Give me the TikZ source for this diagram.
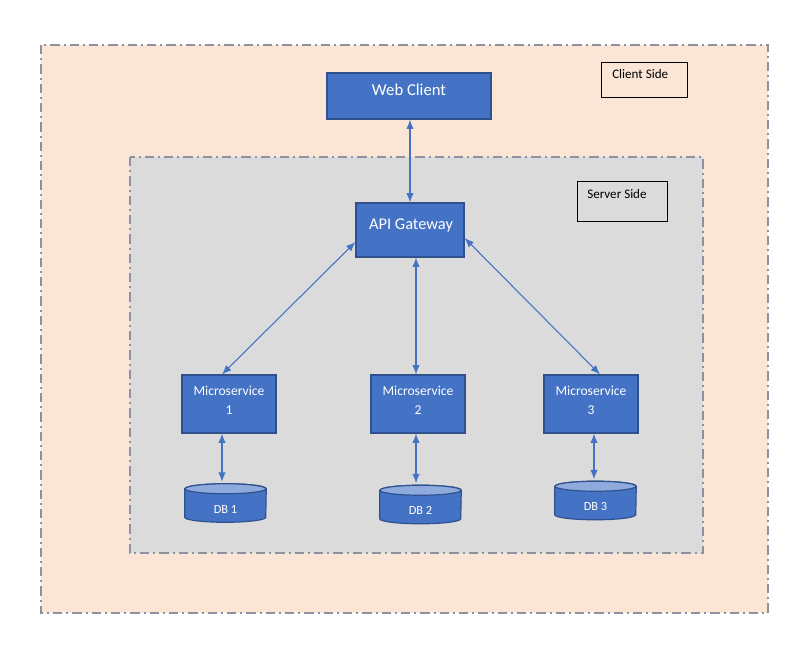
\documentclass[tikz,border=0pt]{standalone}
\usepackage{fontspec}
\setmainfont{Carlito}
\usetikzlibrary{arrows.meta}
\definecolor{peach}{HTML}{FBE5D6}
\definecolor{srvgray}{HTML}{DBDBDB}
\definecolor{framegray}{HTML}{8C93A0}
\definecolor{boxblue}{HTML}{4472C4}
\definecolor{boxedge}{HTML}{2F528F}
\definecolor{dbtop}{HTML}{8FAADC}
\tikzset{
  zone/.style={draw=framegray, line width=1.5pt, dash pattern=on 7pt off 3pt on 1.5pt off 3pt},
  bluebox/.style={draw=boxedge, line width=0.9pt, fill=boxblue, text=white, inner sep=0pt},
  labelbox/.style={draw=black, line width=0.75pt, inner sep=0pt},
  dbframe/.style={minimum width=81*0.75pt, minimum height=38*0.75pt, inner sep=0pt},
  dbdraw/.style={draw=boxedge, line width=0.9pt},
  link/.style={draw=boxblue, line width=0.8pt, {Latex[length=7pt,width=5.5pt]}-{Latex[length=7pt,width=5.5pt]}},
}
\begin{document}
\begin{tikzpicture}[x=0.75pt,y=-0.75pt]
\useasboundingbox (0,0) rectangle (806,665);
% zones
\path[zone, fill=peach] (41,45) rectangle (768,613);
\path[zone, fill=srvgray] (130,157) rectangle (703,553);
% label boxes
\node[labelbox, minimum width=86*0.75pt, minimum height=35*0.75pt] (clientbox) at (644,79.5) {};
\node[anchor=north west, font=\fontsize{9.8pt}{12pt}\selectfont, inner sep=0pt] (clientlbl) at (612,69) {Client Side};
\node[labelbox, minimum width=90*0.75pt, minimum height=40*0.75pt] (serverbox) at (622,201) {};
\node[anchor=north west, font=\fontsize{9.8pt}{12pt}\selectfont, inner sep=0pt] (serverlbl) at (587,189) {Server Side};
% boxes
\node[bluebox, minimum width=164*0.75pt, minimum height=46*0.75pt] (web) at (409,96) {};
\node[white, font=\fontsize{12.5pt}{15pt}\selectfont, inner sep=0pt] (webt) at (409,90) {Web Client};
\node[bluebox, minimum width=108*0.75pt, minimum height=54*0.75pt] (api) at (410,230) {};
\node[white, font=\fontsize{12.3pt}{15pt}\selectfont, inner sep=0pt] (apit) at (411,225) {API Gateway};
\foreach \n/\x in {1/229,2/418,3/591}{
  \node[bluebox, minimum width=94*0.75pt, minimum height=58*0.75pt] (ms\n) at (\x,404) {};
  \node[white, font=\fontsize{10.2pt}{14pt}\selectfont, inner sep=0pt, align=center] (mst\n) at (\x,400.5) {Microservice\\\n};
}
% databases
\foreach \n/\x/\y in {1/225.5/503,2/420.5/504.5,3/595.5/500.5}{
  \node[dbframe] (db\n) at (\x,\y) {};
  \path[dbdraw, fill=boxblue] ([yshift=-5*0.75pt]db\n.north west) -- ([yshift=5*0.75pt]db\n.south west)
     arc[start angle=180, end angle=360, x radius=30.375pt, y radius=3.75pt]
     -- ([yshift=-5*0.75pt]db\n.north east)
     arc[start angle=0, end angle=180, x radius=30.375pt, y radius=3.75pt] -- cycle;
  \path[dbdraw, fill=dbtop] ([yshift=-5*0.75pt]db\n.north) ellipse[x radius=30.375pt, y radius=3.75pt];
  \node[white, font=\fontsize{9.3pt}{11pt}\selectfont, inner sep=0pt] (dbt\n) at ([yshift=-6*0.75pt]db\n.center) {DB \n};
}
% links
\draw[link] (web.south -| 410,0) -- (api.north -| 410,0);
\draw[link] (api.south -| 416,0) -- (ms2.north -| 416,0);
\draw[link] ([yshift=-12*0.75pt]api.west) -- ([xshift=-7*0.75pt]ms1.north);
\draw[link] ([yshift=-8*0.75pt]api.east) -- ([xshift=9*0.75pt]ms3.north);
\draw[link] (ms1.south -| 222,0) -- ([yshift=2*0.75pt]db1.north -| 222,0);
\draw[link] (ms2.south -| 416,0) -- ([yshift=2*0.75pt]db2.north -| 416,0);
\draw[link] (ms3.south -| 594,0) -- ([yshift=2*0.75pt]db3.north -| 594,0);
\end{tikzpicture}
\end{document}
